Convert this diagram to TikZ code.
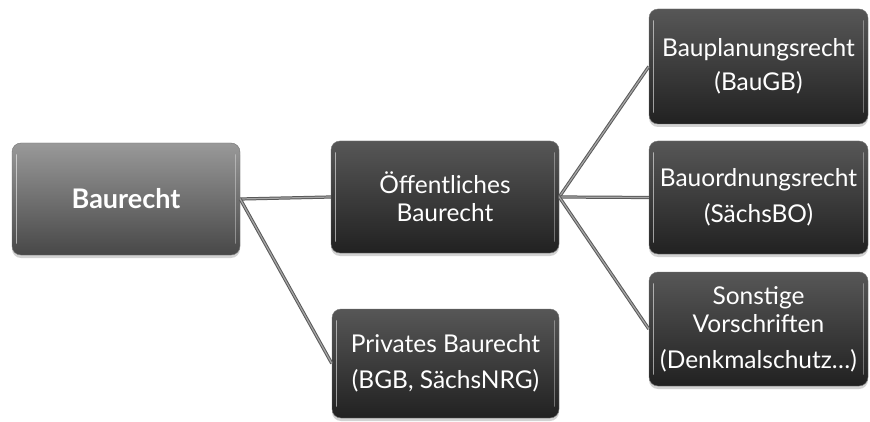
\documentclass[tikz,border=0pt]{standalone}
\usepackage{fontspec}
\setmainfont{Lato}
\usetikzlibrary{shadows}
\tikzset{
  x=1pt, y=-1pt,
  box/.style={rounded corners=9pt, align=center, text=white, inner sep=0pt,
    font=\fontsize{24.5}{28}\selectfont,
    top color=black!66, bottom color=black!87, draw=black!55, line width=0.4pt,
    drop shadow={opacity=0.35, shadow xshift=0pt, shadow yshift=-3pt},
    path picture={
      \draw[white, opacity=0.55, line width=1.6pt, line cap=round]
        ([xshift=4.5pt,yshift=-12pt]path picture bounding box.north west) --
        ([xshift=4.5pt,yshift=12pt]path picture bounding box.south west);
      \draw[white, opacity=0.35, line width=1.6pt, line cap=round]
        ([xshift=-4.5pt,yshift=-12pt]path picture bounding box.north east) --
        ([xshift=-4.5pt,yshift=12pt]path picture bounding box.south east);
    }},
  lightbox/.style={box, top color=black!40, bottom color=black!72,
    font=\fontsize{27}{30}\selectfont\bfseries},
  link/.style={draw=black!65, double=black!35, double distance=1.2pt, line width=1pt}
}
\begin{document}
\begin{tikzpicture}
\useasboundingbox (0,0) rectangle (870,422);
\fill[white] (0,0) rectangle (870,422);
\node[lightbox, minimum width=228pt, minimum height=112pt] (bau) at (126,199) {Baurecht};
\node[box, minimum width=228pt, minimum height=112pt] (oeff) at (445,197) {Öffentliches\\Baurecht};
\node[box, minimum width=227pt, minimum height=109pt] (priv) at (445.5,363.5) {Privates Baurecht\\[8pt](BGB, SächsNRG)};
\node[box, minimum width=219pt, minimum height=115pt] (bpl) at (758.5,66.5) {Bauplanungsrecht\\[6pt](BauGB)};
\node[box, minimum width=219pt, minimum height=113pt] (bord) at (758.5,197.5) {Bauordnungsrecht\\[8pt](SächsBO)};
\node[box, minimum width=219pt, minimum height=114pt] (sonst) at (758.5,329) {Sonstige\\Vorschriften\\[8pt](Denkmalschutz…)};
\draw[link] (bau.east) -- (oeff.west);
\draw[link] (bau.east) -- (priv.west);
\draw[link] (oeff.east) -- (bpl.west);
\draw[link] (oeff.east) -- (bord.west);
\draw[link] (oeff.east) -- (sonst.west);
\end{tikzpicture}
\end{document}
